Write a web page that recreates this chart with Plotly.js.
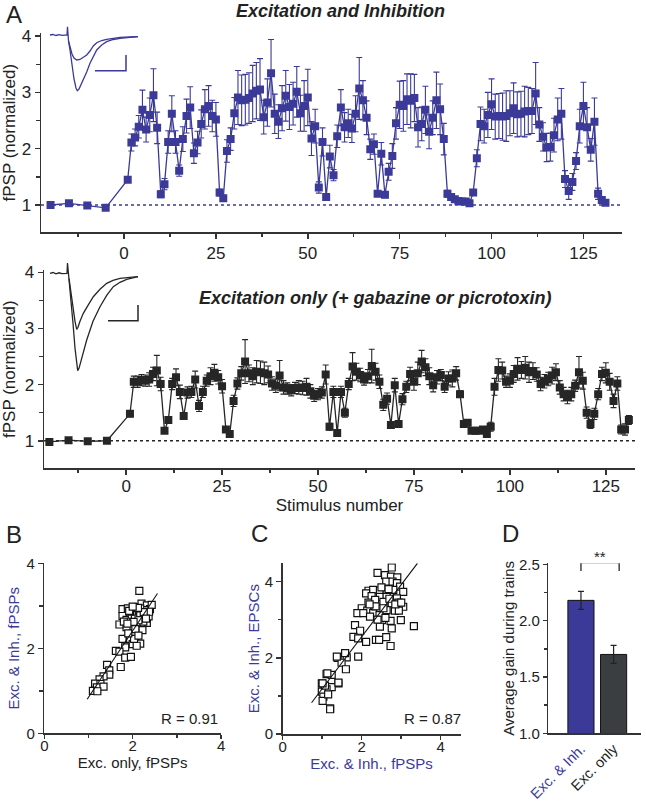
<!DOCTYPE html>
<html>
<head>
<meta charset="utf-8">
<script src="https://cdn.plot.ly/plotly-3.0.1.min.js"></script>
<style>html,body{margin:0;padding:0;background:#fff;}#chart{width:646px;height:801px;}</style>
</head>
<body>
<div id="chart"></div>
<script>
// ---------- Panel A (top): Excitation and Inhibition ----------
const stimX = [-20,-15,-10,-5,
  1,2,3,4,5,6,7,8,9,10,11,12,13,14,15,16,17,18,19,20,21,22,23,24,25,26,27,28,29,30,
  31,32,33,34,35,36,37,38,39,40,41,42,43,44,45,46,47,48,49,50,51,52,53,54,55,56,57,58,59,60,
  61,62,63,64,65,66,67,68,69,70,71,72,73,74,75,76,77,78,79,80,81,82,83,84,85,86,87,88,89,90,
  91,92,93,94,95,96,97,98,99,100,101,102,103,104,105,106,107,108,109,110,111,112,113,114,115,116,117,118,119,120,
  121,122,123,124,125,126,127,128,129,130,131];

const excInhY = [1.00,1.03,0.99,0.95,
  1.45,2.11,2.20,2.39,2.69,2.34,2.60,2.95,2.37,1.19,
  1.37,2.12,2.62,2.12,1.61,2.17,2.58,2.73,1.92,2.11,
  2.44,2.70,2.76,2.58,2.52,1.22,1.12,1.96,2.17,2.63,
  2.91,2.86,2.87,2.90,2.98,3.03,3.05,2.56,2.82,3.34,
  2.62,2.48,2.72,2.94,2.74,2.80,3.01,2.63,2.76,2.91,
  2.18,2.40,1.31,2.12,1.14,1.86,1.53,2.22,2.73,2.38,
  2.45,2.36,2.62,3.07,2.86,2.55,1.99,2.08,1.20,1.91,
  1.18,1.59,1.87,2.45,2.78,2.76,2.88,2.85,2.90,2.38,
  2.44,2.69,2.30,2.55,2.86,2.70,2.17,1.20,1.14,1.10,
  1.07,1.06,1.06,1.03,1.22,1.83,2.44,2.40,2.60,2.79,
  2.57,2.58,2.57,2.58,2.63,2.72,2.61,2.62,2.66,2.67,
  2.67,2.98,2.43,2.21,2.02,2.03,2.24,2.52,2.62,1.46,
  1.25,1.41,1.78,2.40,2.76,2.38,1.98,2.48,1.20,1.09,
  1.04];

const excInhErr = [0.03,0.03,0.03,0.03,
  0.05,0.15,0.15,0.20,0.35,0.22,0.30,0.47,0.28,0.06,
  0.10,0.20,0.32,0.20,0.10,0.22,0.30,0.37,0.18,0.20,
  0.25,0.35,0.36,0.28,0.30,0.06,0.05,0.20,0.20,0.28,
  0.48,0.45,0.45,0.45,0.50,0.50,0.55,0.30,0.42,0.60,
  0.35,0.30,0.40,0.45,0.40,0.38,0.45,0.32,0.45,0.50,
  0.30,0.30,0.10,0.25,0.06,0.20,0.10,0.20,0.32,0.26,
  0.25,0.25,0.32,0.55,0.35,0.30,0.18,0.18,0.05,0.20,
  0.05,0.15,0.22,0.28,0.42,0.45,0.45,0.48,0.42,0.35,
  0.30,0.42,0.30,0.30,0.50,0.45,0.28,0.06,0.05,0.04,
  0.03,0.03,0.03,0.03,0.05,0.15,0.30,0.30,0.40,0.45,
  0.40,0.40,0.42,0.45,0.40,0.45,0.40,0.40,0.45,0.42,
  0.40,0.55,0.30,0.25,0.25,0.25,0.30,0.38,0.45,0.15,
  0.15,0.15,0.15,0.30,0.42,0.35,0.20,0.42,0.10,0.05,
  0.03];

// ---------- Panel A (bottom): Excitation only ----------
const excOnlyY = [0.98,1.01,0.99,1.00,
  1.48,2.05,2.05,2.08,2.07,2.09,2.19,2.25,2.01,1.18,
  1.37,2.01,2.13,1.87,1.44,1.86,1.87,2.09,1.62,1.87,
  2.07,2.15,2.21,2.13,1.97,1.20,1.12,1.71,2.02,2.20,
  2.41,2.20,2.15,2.23,2.22,2.20,2.18,2.02,1.98,2.16,
  1.95,1.93,1.90,1.94,1.95,1.94,1.96,1.88,1.80,1.83,
  1.86,2.18,1.25,1.87,1.14,1.87,1.50,2.01,2.32,2.23,
  2.17,2.09,2.15,2.33,2.23,2.05,1.64,1.75,1.28,1.99,
  1.30,1.74,1.96,2.19,2.05,2.20,2.41,2.31,2.15,1.99,
  2.13,2.17,1.96,2.11,2.11,2.20,1.83,1.30,1.32,1.18,
  1.18,1.18,1.20,1.12,1.25,1.96,2.26,2.25,2.05,2.07,
  2.19,2.28,2.26,2.30,2.22,2.24,2.18,2.01,2.06,2.10,
  2.16,2.22,1.95,1.83,1.78,1.83,1.98,2.22,2.07,1.50,
  1.30,1.48,1.83,2.19,2.21,2.05,1.71,2.02,1.20,1.20,
  1.37];

const excOnlyErr = [0.02,0.02,0.02,0.02,
  0.05,0.10,0.10,0.10,0.10,0.12,0.12,0.27,0.12,0.05,
  0.06,0.10,0.15,0.12,0.06,0.10,0.10,0.15,0.10,0.10,
  0.10,0.15,0.15,0.12,0.12,0.05,0.05,0.10,0.10,0.12,
  0.39,0.15,0.15,0.20,0.20,0.20,0.15,0.12,0.12,0.27,
  0.12,0.10,0.10,0.10,0.12,0.12,0.15,0.12,0.10,0.10,
  0.10,0.17,0.06,0.10,0.05,0.10,0.08,0.10,0.25,0.15,
  0.12,0.10,0.12,0.30,0.15,0.12,0.10,0.10,0.06,0.12,
  0.06,0.10,0.10,0.12,0.15,0.20,0.20,0.15,0.15,0.12,
  0.12,0.10,0.10,0.12,0.15,0.12,0.06,0.05,0.04,0.03,
  0.03,0.03,0.03,0.06,0.08,0.15,0.20,0.15,0.10,0.12,
  0.15,0.20,0.15,0.20,0.18,0.15,0.12,0.12,0.12,0.12,
  0.15,0.15,0.12,0.12,0.12,0.12,0.10,0.28,0.15,0.10,
  0.08,0.10,0.10,0.12,0.18,0.15,0.12,0.12,0.08,0.10,
  0.08];

const stimTicks = [0,25,50,75,100,125];

// ---------- Insets (example traces) ----------
const insAt = [0,3,6,9,12,15,17,17.5,18.5,20,22,24,26,27.3,29,31,33.3,36.7,40,43.3,46.7,51.7,56.7,63.3,70,80,88];
const insAbig = [0,0.5,-0.5,0.3,-0.3,0.2,0,8.3,-6,-15,-30,-44,-53,-55.7,-54,-50,-45,-37,-28.3,-21,-15,-10,-6.7,-4.5,-3.3,-2.3,-1.7];
const insAtSmall = [18.5,20,22,24,26.7,30,33.3,36.7,40,43.3,46.7,51.7,56.7,63.3,70,80,88];
const insAsmall = [-6,-12,-19,-23,-25,-24.5,-22.5,-20,-16,-11,-7.7,-5.5,-4.3,-3,-2.3,-2,-1.7];
const insAbarT = [45,76,76];
const insAbarV = [-35.7,-35.7,-20];

const insBt = [0,3,6,9,12,15,17,17.5,19,21,23,25,26.5,27.7,29,31,33.3,36.7,43,50,56.7,63.3,70,76.7,88];
const insBbig = [0,0.8,-0.6,0.5,-0.4,0.3,0,10.3,-5,-25,-50,-75,-92,-97.4,-95,-88,-79,-66.7,-48,-33.4,-22,-13.4,-9,-6,-3.4];
const insBtSmall = [19,21,23,25,26.7,28,30,33.3,38,43.3,50,56.7,63,70,80,88];
const insBsmall = [-5,-20,-35,-48,-56,-54,-48,-40,-32,-23.4,-16,-10,-7,-5,-4,-3.4];
const insBbarT = [58,88,88];
const insBbarV = [-47.4,-47.4,-31.7];

// ---------- Panel B ----------
const bX = [2.15,1.77,1.89,2.00,2.09,2.20,2.32,2.39,1.77,1.86,1.98,2.05,2.17,2.26,2.32,2.20,2.09,1.98,1.86,2.10,2.22,2.00,1.94,2.05,2.00,1.77,1.83,1.62,1.70,1.83,1.96,1.73,1.42,1.47,1.47,1.34,1.25,1.15,1.27,1.19,1.10,1.34,1.20,2.17,2.09,2.03,2.24,2.36,1.90,2.13,2.02,1.94,1.70,2.28,2.17,2.43,2.37,1.92,2.06,2.13,2.25,1.80,2.30,2.12,2.00,1.88];
const bY = [3.35,2.92,2.94,2.90,2.97,3.05,3.01,2.92,2.76,2.67,2.79,2.70,2.83,2.74,2.60,2.52,2.56,2.52,2.50,2.41,2.43,2.34,2.22,2.18,2.10,2.22,2.02,1.94,1.92,1.78,1.80,1.56,1.61,1.48,1.38,1.34,1.27,1.17,1.16,1.08,1.00,1.10,0.99,2.11,2.06,2.22,2.63,2.75,2.35,2.66,2.62,2.86,2.56,2.90,2.94,3.02,2.86,2.88,2.45,2.30,2.85,2.63,2.70,2.95,2.98,2.58];
const bFitX = [0.97,2.56];
const bFitY = [0.80,3.29];

// ---------- Panel C ----------
const cX = [2.76,2.40,2.59,2.74,2.90,2.62,2.78,2.89,2.97,3.05,2.17,2.29,2.46,2.63,2.80,2.11,2.25,2.46,2.63,2.89,2.17,2.34,2.55,2.76,2.93,3.05,2.00,2.14,1.89,2.04,2.29,2.45,2.63,2.84,2.94,2.21,2.51,2.73,2.99,2.46,2.76,3.32,1.83,1.96,1.79,1.91,2.11,2.36,2.44,2.62,2.73,1.62,1.39,1.49,1.60,1.91,1.11,1.24,1.41,0.99,1.24,1.11,0.99,1.03,1.01,1.20,1.15,1.07,2.35,2.55,2.70,2.50,2.85,2.40,2.60,2.20,3.00,2.68,1.58,1.37,1.13,1.41,1.01,1.20];
const cY = [4.37,4.23,4.17,4.13,4.11,4.00,4.00,3.96,3.87,3.73,3.76,3.78,3.76,3.73,3.78,3.69,3.62,3.60,3.60,3.56,3.45,3.52,3.47,3.43,3.45,3.34,3.30,3.24,3.17,3.17,3.17,3.12,3.25,3.24,3.24,3.08,2.99,2.97,2.99,2.82,2.77,2.83,2.86,2.71,2.55,2.51,2.42,2.47,2.47,2.54,2.31,2.01,2.00,1.87,1.70,2.03,1.57,1.55,1.33,1.33,1.23,1.17,1.11,0.98,0.87,0.67,1.04,1.27,3.35,3.30,3.55,3.85,3.40,3.00,3.05,3.40,3.45,3.80,2.12,2.03,1.59,1.35,1.33,0.65];
const cFitX = [0.73,3.41];
const cFitY = [0.82,4.48];

// ---------- Panel D ----------
const dCats = ['Exc. & Inh.','Exc. only'];
const dVals = [2.18,1.70];
const dErr = [0.08,0.08];

// ---------- styling ----------
const FONT = 'Liberation Sans, Arial, Helvetica, sans-serif';
const BLUE = '#3b3a98';
const DARK = '#262626';
const AX = '#333333';
const TXT = '#222222';
const W = 646, H = 801;
const fx = p => p / W;
const fy = p => 1 - p / H;

function axis(extra) {
  return Object.assign({
    showline: true, linecolor: AX, linewidth: 1.5,
    ticks: 'outside', ticklen: 5, tickwidth: 1.5, tickcolor: AX,
    showgrid: false, zeroline: false, fixedrange: true,
    tickfont: {family: FONT, size: 15, color: TXT}
  }, extra);
}
function minor(d, t0) {
  return {dtick: d, tick0: t0, ticks: 'outside', ticklen: 3.5, tickwidth: 1.5, tickcolor: AX, showgrid: false};
}
const hidden = {visible: false, showgrid: false, zeroline: false, fixedrange: true};

const traces = [];
traces.push({
  x: stimX, y: excInhY, xaxis: 'x', yaxis: 'y', type: 'scatter', mode: 'lines+markers',
  line: {color: BLUE, width: 1.3},
  marker: {symbol: 'square', size: 8, color: BLUE},
  error_y: {type: 'data', array: excInhErr, visible: true, color: BLUE, thickness: 1.1, width: 3}
});
traces.push({
  x: stimX, y: excOnlyY, xaxis: 'x2', yaxis: 'y2', type: 'scatter', mode: 'lines+markers',
  line: {color: DARK, width: 1.3},
  marker: {symbol: 'square', size: 8, color: DARK},
  error_y: {type: 'data', array: excOnlyErr, visible: true, color: DARK, thickness: 1.1, width: 3}
});
traces.push({x: bX, y: bY, xaxis: 'x3', yaxis: 'y3', type: 'scatter', mode: 'markers',
  marker: {symbol: 'square', size: 7, color: '#ffffff', line: {color: '#111', width: 1.2}}});
traces.push({x: bFitX, y: bFitY, xaxis: 'x3', yaxis: 'y3', type: 'scatter', mode: 'lines',
  line: {color: '#111', width: 1.1}});
traces.push({x: cX, y: cY, xaxis: 'x4', yaxis: 'y4', type: 'scatter', mode: 'markers',
  marker: {symbol: 'square', size: 7, color: '#ffffff', line: {color: '#111', width: 1.2}}});
traces.push({x: cFitX, y: cFitY, xaxis: 'x4', yaxis: 'y4', type: 'scatter', mode: 'lines',
  line: {color: '#111', width: 1.1}});
traces.push({x: [0,1], y: dVals, xaxis: 'x5', yaxis: 'y5', type: 'bar', width: 0.8,
  marker: {color: [BLUE, '#3a3e40'], line: {color: '#111', width: 1}},
  error_y: {type: 'data', array: dErr, visible: true, color: '#222', thickness: 1.2, width: 3}});
traces.push({x: [0,0,1.17,1.17], y: [2.44,2.515,2.515,2.44], xaxis: 'x5', yaxis: 'y5', type: 'scatter',
  mode: 'lines', cliponaxis: false, line: {color: '#111', width: 1.2}});
traces.push({x: insAt, y: insAbig, xaxis: 'x6', yaxis: 'y6', type: 'scatter', mode: 'lines', line: {color: BLUE, width: 1.3}});
traces.push({x: insAtSmall, y: insAsmall, xaxis: 'x6', yaxis: 'y6', type: 'scatter', mode: 'lines', line: {color: BLUE, width: 1.3}});
traces.push({x: insAbarT, y: insAbarV, xaxis: 'x6', yaxis: 'y6', type: 'scatter', mode: 'lines', line: {color: BLUE, width: 1.5}});
traces.push({x: insBt, y: insBbig, xaxis: 'x7', yaxis: 'y7', type: 'scatter', mode: 'lines', line: {color: DARK, width: 1.3}});
traces.push({x: insBtSmall, y: insBsmall, xaxis: 'x7', yaxis: 'y7', type: 'scatter', mode: 'lines', line: {color: DARK, width: 1.3}});
traces.push({x: insBbarT, y: insBbarV, xaxis: 'x7', yaxis: 'y7', type: 'scatter', mode: 'lines', line: {color: DARK, width: 1.5}});

const titleFontA = {family: FONT, size: 17, color: TXT};
const titleFont = {family: FONT, size: 15, color: TXT};
const blueTitleFont = {family: FONT, size: 15, color: BLUE};

function ann(text, px, py, size, extra) {
  return Object.assign({text: text, xref: 'paper', yref: 'paper', x: fx(px), y: fy(py),
    xanchor: 'center', yanchor: 'middle', showarrow: false,
    font: {family: FONT, size: size, color: TXT}}, extra || {});
}

const layout = {
  width: W, height: H,
  margin: {l: 0, r: 0, t: 0, b: 0},
  paper_bgcolor: '#ffffff', plot_bgcolor: 'rgba(0,0,0,0)',
  showlegend: false, hovermode: false,
  font: {family: FONT, color: TXT},
  xaxis: axis({domain: [fx(41), fx(622)], range: [-22.6, 135.5], anchor: 'y',
    tickvals: stimTicks, tickfont: {family: FONT, size: 17, color: TXT}, minor: minor(12.5, 0)}),
  yaxis: axis({domain: [fy(232), fy(33.3)], range: [0.52, 4.05], anchor: 'x',
    tickvals: [1,2,3,4], tickfont: {family: FONT, size: 17, color: TXT}, minor: minor(0.5, 0),
    title: {text: 'fPSP (normalized)', font: titleFontA, standoff: 5}}),
  xaxis2: axis({domain: [fx(44), fx(635)], range: [-21.4, 132.6], anchor: 'y2',
    tickvals: stimTicks, tickfont: {family: FONT, size: 17, color: TXT}, minor: minor(12.5, 0),
    ticklabelstandoff: -3,
    title: {text: 'Stimulus number', font: titleFontA, standoff: 4}}),
  yaxis2: axis({domain: [fy(468.3), fy(270)], range: [0.51, 4.04], anchor: 'x2',
    tickvals: [1,2,3,4], tickfont: {family: FONT, size: 17, color: TXT}, minor: minor(0.5, 0),
    title: {text: 'fPSP (normalized)', font: titleFontA, standoff: 5}}),
  xaxis3: axis({domain: [fx(44.3), fx(221.1)], range: [0, 4], anchor: 'y3',
    tickvals: [0,2,4], minor: minor(1, 0), ticklen: 4, ticklabelstandoff: -6,
    title: {text: 'Exc. only, fPSPs', font: titleFont, standoff: 0}}),
  yaxis3: axis({domain: [fy(733.3), fy(563.3)], range: [0, 4], anchor: 'x3',
    tickvals: [0,2,4], minor: minor(1, 0),
    title: {text: 'Exc. & Inh., fPSPs', font: blueTitleFont, standoff: 3}}),
  xaxis4: axis({domain: [fx(282.7), fx(460.5)], range: [0, 4.5], anchor: 'y4',
    tickvals: [0,2,4], minor: minor(1, 0), ticklen: 4, ticklabelstandoff: -6,
    title: {text: 'Exc. & Inh., fPSPs', font: blueTitleFont, standoff: 2}}),
  yaxis4: axis({domain: [fy(734), fy(563.3)], range: [0, 4.48], anchor: 'x4',
    tickvals: [0,2,4], minor: minor(1, 0),
    title: {text: 'Exc. & Inh., EPSCs', font: blueTitleFont, standoff: 1}}),
  xaxis5: axis({domain: [fx(548.3), fx(640.7)], range: [-1, 1.83], anchor: 'y5',
    tickvals: [0,1], ticks: '', tickangle: -45,
    ticktext: ['<span style="color:' + BLUE + '">' + dCats[0] + '</span>', dCats[1]],
    tickfont: {family: FONT, size: 14.5, color: TXT}}),
  yaxis5: axis({domain: [fy(733.3), fy(563.3)], range: [1.0, 2.509], anchor: 'x5',
    tickvals: [1.0,1.5,2.0,2.5], ticktext: ['1.0','1.5','2.0','2.5'], ticklen: 4,
    minor: {tickvals: [1.25,1.75,2.25], ticks: 'outside', ticklen: 3, tickwidth: 1.5, tickcolor: AX},
    title: {text: 'Average gain during trains', font: titleFont, standoff: 0}}),
  xaxis6: Object.assign({domain: [fx(45), fx(145)], range: [-5, 95], anchor: 'y6'}, hidden),
  yaxis6: Object.assign({domain: [fy(100), fy(20)], range: [-65, 15], anchor: 'x6'}, hidden),
  xaxis7: Object.assign({domain: [fx(45), fx(145)], range: [-5, 95], anchor: 'y7'}, hidden),
  yaxis7: Object.assign({domain: [fy(380), fy(255)], range: [-106.7, 18.3], anchor: 'x7'}, hidden),
  shapes: [
    {type: 'line', xref: 'x domain', yref: 'y', x0: 0, x1: 1, y0: 1, y1: 1, layer: 'below',
      line: {color: BLUE, width: 1.5, dash: 'dot'}},
    {type: 'line', xref: 'x2 domain', yref: 'y2', x0: 0, x1: 1, y0: 1, y1: 1, layer: 'below',
      line: {color: DARK, width: 1.5, dash: 'dot'}}
  ],
  annotations: [
    ann('A', 14, 14, 24),
    ann('B', 14, 534, 24),
    ann('C', 259, 533, 24),
    ann('D', 510, 533, 24),
    ann('<b><i>Excitation and Inhibition</i></b>', 340, 11, 18),
    ann('<b><i>Excitation only (+ gabazine or picrotoxin)</i></b>', 376, 298, 18),
    ann('R = 0.91', 220, 718, 15, {xanchor: 'right'}),
    ann('R = 0.87', 463, 718, 15, {xanchor: 'right'}),
    ann('**', 600, 556, 15)
  ]
};

Plotly.newPlot('chart', traces, layout, {staticPlot: true, displayModeBar: false});
</script>
</body>
</html>
